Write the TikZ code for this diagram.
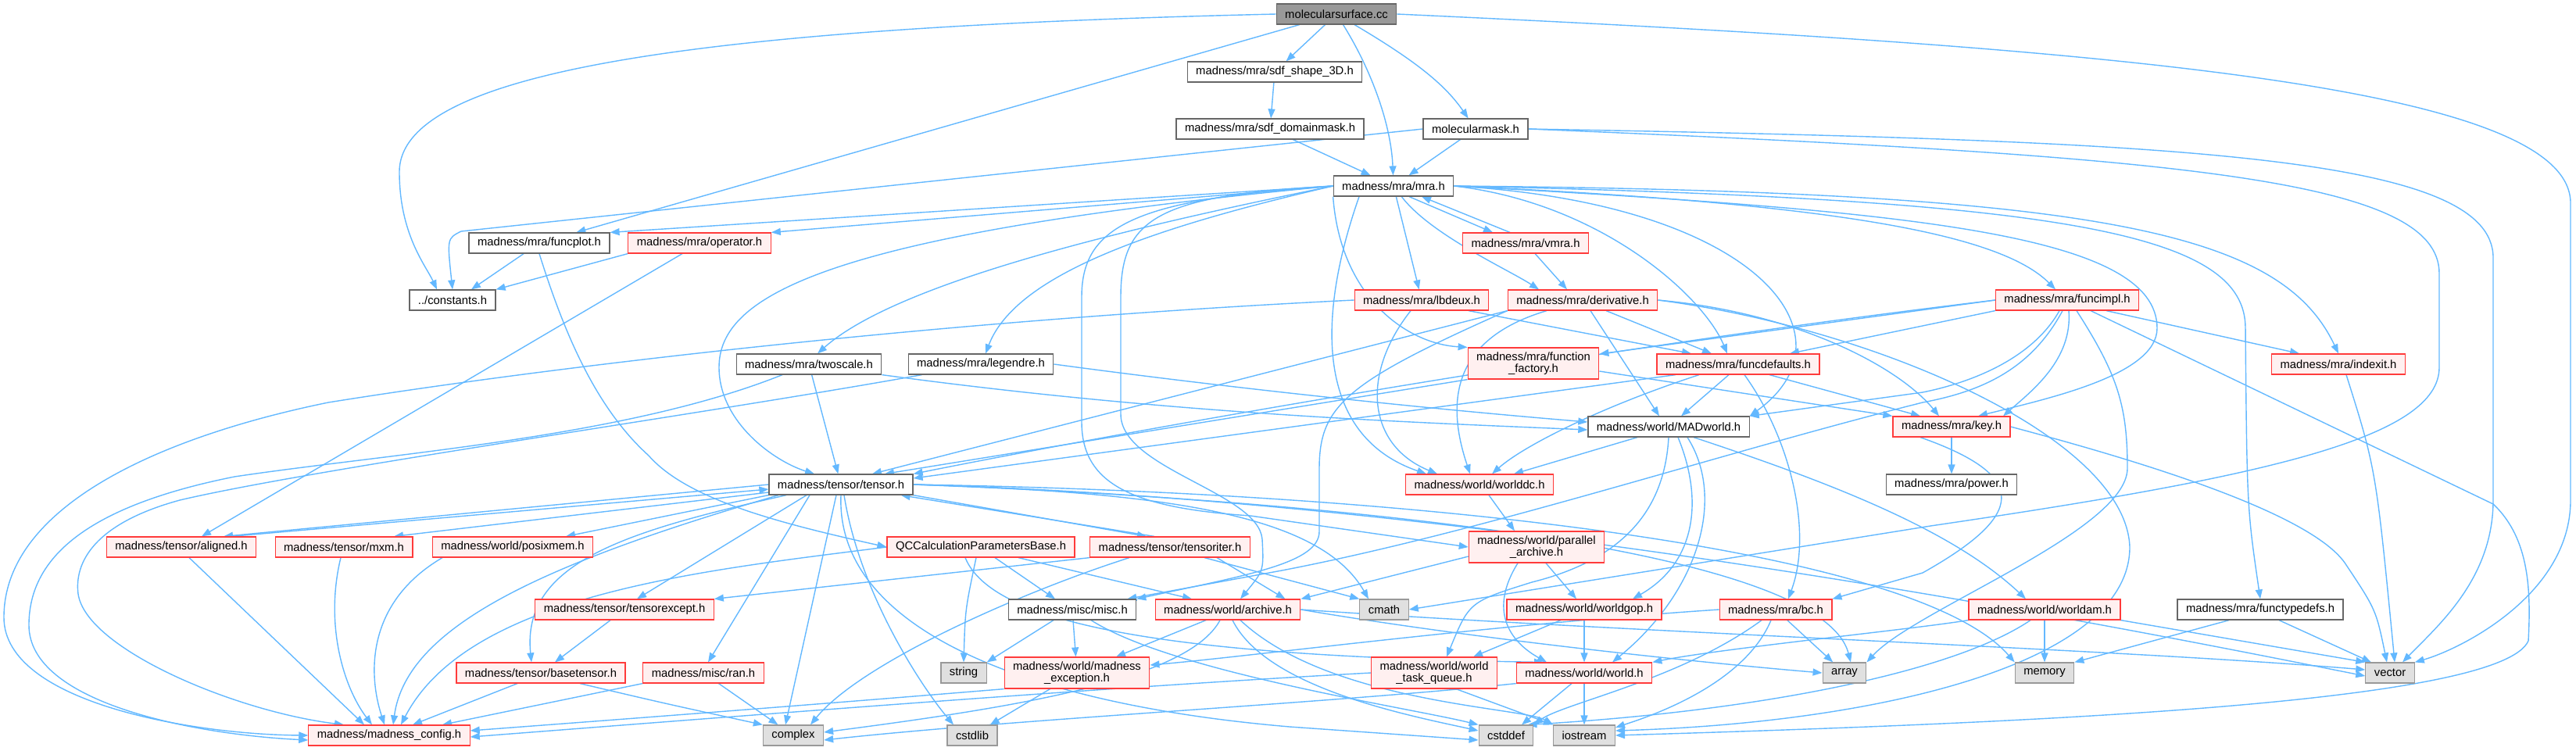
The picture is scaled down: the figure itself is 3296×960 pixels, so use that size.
\documentclass[tikz,border=0pt]{standalone}
\usepackage{fontspec}
\usetikzlibrary{arrows.meta}
\newfontfamily\dxsans{Liberation Sans}
\newcommand{\hdrfont}{\dxsans\fontsize{7.4}{7.6}\selectfont}
\definecolor{edgeblue}{HTML}{63B8FF}
\definecolor{hdrline}{HTML}{666666}
\definecolor{hdrred}{HTML}{FF3B3B}
\definecolor{hdrpink}{HTML}{FFF0F0}
\definecolor{sysline}{HTML}{999999}
\definecolor{sysfill}{HTML}{E0E0E0}
\definecolor{rootline}{HTML}{666666}
\definecolor{rootfill}{HTML}{999999}
\pgfdeclarelayer{edges}
\pgfsetlayers{edges,main}
\tikzset{
  hdr/.style={draw=hdrline, fill=white, line width=0.6pt, minimum height=13pt,
    inner xsep=5.5pt, inner ysep=1pt, font=\hdrfont},
  redhdr/.style={hdr, draw=hdrred, fill=hdrpink},
  syshdr/.style={hdr, draw=sysline, fill=sysfill},
  roothdr/.style={hdr, draw=rootline, fill=rootfill},
  twoline/.style={align=center, minimum height=20pt},
  dep/.style={draw=edgeblue, line width=0.7pt, -{Triangle[length=6pt,width=4.5pt]}},
}

\begin{document}
\begin{tikzpicture}[x=0.5pt, y=-0.5pt]
  \useasboundingbox (0,0) rectangle (3296,960);

  \node[roothdr] (surface) at (1710,18) {molecularsurface.cc};
  \node[hdr] (sdfshape) at (1631,92) {madness/mra/sdf\_shape\_3D.h};
  \node[hdr] (sdfmask) at (1625,165) {madness/mra/sdf\_domainmask.h};
  \node[hdr] (molmask) at (1888,165) {molecularmask.h};
  \node[hdr] (mra) at (1783,238) {madness/mra/mra.h};
  \node[hdr] (funcplot) at (690,311) {madness/mra/funcplot.h};
  \node[redhdr] (operator) at (895,311) {madness/mra/operator.h};
  \node[redhdr] (vmra) at (1952,311) {madness/mra/vmra.h};
  \node[hdr] (constants) at (579,384) {../constants.h};
  \node[redhdr] (lbdeux) at (1819,384) {madness/mra/lbdeux.h};
  \node[redhdr] (deriv) at (2025,384) {madness/mra/derivative.h};
  \node[redhdr] (funcimpl) at (2645,384) {madness/mra/funcimpl.h};
  \node[hdr] (twoscale) at (1035,466) {madness/mra/twoscale.h};
  \node[hdr] (legendre) at (1255,466) {madness/mra/legendre.h};
  \node[redhdr, twoline] (factory) at (1962,465) {madness/mra/function\\\_factory.h};
  \node[redhdr] (funcdef) at (2224,466) {madness/mra/funcdefaults.h};
  \node[redhdr] (indexit) at (2992,466) {madness/mra/indexit.h};
  \node[hdr] (madworld) at (2135,546) {madness/world/MADworld.h};
  \node[redhdr] (key) at (2497,546) {madness/mra/key.h};
  \node[redhdr] (worlddc) at (1893,620) {madness/world/worlddc.h};
  \node[hdr] (power) at (2497,620) {madness/mra/power.h};
  \node[hdr] (tensor) at (1076,620) {madness/tensor/tensor.h};
  \node[redhdr] (aligned) at (232,700) {madness/tensor/aligned.h};
  \node[redhdr] (mxm) at (440,700) {madness/tensor/mxm.h};
  \node[redhdr] (posixmem) at (656,700) {madness/world/posixmem.h};
  \node[redhdr] (qcparams) at (1255,700) {QCCalculationParametersBase.h};
  \node[redhdr] (tensoriter) at (1497,700) {madness/tensor/tensoriter.h};
  \node[redhdr, twoline] (pararchive) at (1966,700) {madness/world/parallel\\\_archive.h};
  \node[redhdr] (tensorexcept) at (799,780) {madness/tensor/tensorexcept.h};
  \node[hdr] (misc) at (1372,780) {madness/misc/misc.h};
  \node[redhdr] (archive) at (1571,780) {madness/world/archive.h};
  \node[syshdr] (cmath) at (1771,780) {cmath};
  \node[redhdr] (worldgop) at (2027,780) {madness/world/worldgop.h};
  \node[redhdr] (bc) at (2272,780) {madness/mra/bc.h};
  \node[redhdr] (worldam) at (2616,780) {madness/world/worldam.h};
  \node[hdr] (functypedefs) at (2892,780) {madness/mra/functypedefs.h};
  \node[redhdr] (basetensor) at (692,861) {madness/tensor/basetensor.h};
  \node[redhdr] (ran) at (900,861) {madness/misc/ran.h};
  \node[syshdr] (string) at (1233,861) {string};
  \node[redhdr, twoline] (mexcept) at (1378,861) {madness/world/madness\\\_exception.h};
  \node[redhdr, twoline] (taskqueue) at (1835,861) {madness/world/world\\\_task\_queue.h};
  \node[redhdr] (world) at (2027,861) {madness/world/world.h};
  \node[syshdr] (array) at (2360,861) {array};
  \node[syshdr] (memory) at (2616,861) {memory};
  \node[syshdr] (vector) at (3058,861) {vector};
  \node[redhdr] (config) at (498,941) {madness/madness\_config.h};
  \node[syshdr] (complex) at (1015,941) {complex};
  \node[syshdr] (cstdlib) at (1244,941) {cstdlib};
  \node[syshdr] (cstddef) at (1927,941) {cstddef};
  \node[syshdr] (iostream) at (2027,941) {iostream};

  \begin{pgfonlayer}{edges}
  % top of the graph
  \draw[dep] (surface.west) .. controls (900,35) and (511,90) .. (511,220) .. controls (511,300) and (545,340) .. ([xshift=-10pt]constants.north);
  \draw[dep] (surface) -- (funcplot);
  \draw[dep] (surface) -- (sdfshape);
  \draw[dep] (surface) .. controls (1755,90) and (1780,160) .. (mra);
  \draw[dep] (surface) .. controls (1815,80) and (1850,110) .. (molmask);
  \draw[dep] (surface.east) .. controls (2700,60) and (3289,110) .. (3289,260) -- (3289,640) .. controls (3289,760) and (3150,830) .. (vector.north east);
  \draw[dep] (sdfshape) -- (sdfmask);
  \draw[dep] (sdfmask) -- (mra);
  \draw[dep] (molmask) -- (mra);
  \draw[dep] (molmask.west) -- (590,296) .. controls (572,305) .. (constants.north);
  \draw[dep] (molmask.east) .. controls (2800,180) and (3190,200) .. (3190,330) -- (3190,640) .. controls (3190,740) and (3120,800) .. ([xshift=8pt]vector.north);
  \draw[dep] (molmask.east) .. controls (2800,200) and (3121,230) .. (3121,350) -- (3121,470) .. controls (3121,560) and (2900,610) .. (2470,673) -- (cmath.east);

  % mra.h
  \draw[dep] (mra.west) -- (funcplot.north east);
  \draw[dep] (mra.west) -- (operator.north east);
  \draw[dep] ([xshift=10pt]mra.south) -- ([xshift=-21pt]vmra.north);
  \draw[dep] ([xshift=-10pt]vmra.north) -- ([xshift=18pt]mra.south);
  \draw[dep] (mra) -- (lbdeux);
  \draw[dep] (mra) .. controls (1830,300) and (1930,345) .. ([xshift=-28pt]deriv.north);
  \draw[dep] (mra.east) .. controls (2050,260) and (2180,380) .. ([xshift=-7pt]funcdef.north);
  \draw[dep] (mra.east) .. controls (2250,260) and (2380,430) .. (madworld.north east);
  \draw[dep] (mra.south west) .. controls (1715,380) and (1800,440) .. (factory.north west);
  \draw[dep] ([xshift=-22pt]mra.south) .. controls (1680,420) and (1690,560) .. ([xshift=-34pt]worlddc.north);
  \draw[dep] (mra.west) .. controls (1450,290) and (1150,360) .. ([xshift=5.5pt]twoscale.north);
  \draw[dep] (mra.west) .. controls (1480,290) and (1300,350) .. ([xshift=3pt]legendre.north);
  \draw[dep] (mra.west) .. controls (1050,300) and (920,380) .. (920,470) .. controls (920,540) and (990,590) .. ([xshift=-17pt]tensor.north);
  \draw[dep] (mra.east) .. controls (2350,260) and (2560,300) .. ([xshift=-7.5pt]funcimpl.north);
  \draw[dep] (mra.east) .. controls (2450,270) and (2760,300) .. (2760,420) .. controls (2760,480) and (2620,510) .. ([xshift=17pt]key.north);
  \draw[dep] (mra.east) .. controls (2650,255) and (2873,300) .. (2873,420) .. controls (2875,650) .. (functypedefs.north);
  \draw[dep] (mra.east) .. controls (2700,245) and (2920,300) .. (indexit.north);
  \draw[dep] (mra.west) .. controls (1450,255) and (1384,290) .. (1384,380) -- (1384,540) .. controls (1384,620) and (1450,650) .. (1600,660) -- (pararchive.west);
  \draw[dep] (mra.west) .. controls (1480,250) and (1434,280) .. (1434,380) -- (1434,530) .. controls (1434,600) and (1610,630) .. (1615,690) .. controls (1617,730) .. ([xshift=8pt]archive.north);
  \draw[dep] (vmra) -- ([xshift=-10pt]deriv.north);

  % second level
  \draw[dep] (funcplot) -- ([xshift=12pt]constants.north);
  \draw[dep] (operator.south west) -- (constants.north east);
  \draw[dep] (funcplot.south) .. controls (720,420) and (760,520) .. (830,583) .. controls (880,640) and (1000,670) .. (qcparams.west);
  \draw[dep] ([xshift=-11pt]operator.south) -- ([xshift=13pt]aligned.north);
  \draw[dep] (lbdeux.west) .. controls (1200,410) and (700,470) .. (420,515) .. controls (200,560) and (5,650) .. (5,790) .. controls (5,900) and (250,940) .. (config.west);
  \draw[dep] ([xshift=-7pt]lbdeux.south) .. controls (1740,480) and (1750,570) .. ([xshift=-27pt]worlddc.north);
  \draw[dep] ([xshift=30pt]lbdeux.south) -- ([xshift=-30pt]funcdef.north);
  \draw[dep] (deriv.south west) -- ([xshift=20pt]tensor.north);
  \draw[dep] ([xshift=15pt]deriv.south) -- ([xshift=-17pt]funcdef.north);
  \draw[dep] ([xshift=5pt]deriv.south) -- ([xshift=-6pt]madworld.north);
  \draw[dep] ([xshift=-23pt]deriv.south) .. controls (1870,430) and (1845,500) .. ([xshift=-6pt]worlddc.north);
  \draw[dep] (deriv.east) .. controls (2300,400) and (2430,470) .. ([xshift=-8pt]key.north);
  \draw[dep] (deriv.south west) .. controls (1720,490) and (1688,520) .. (1688,600) -- (1688,680) .. controls (1688,720) and (1600,735) .. (misc.north east);
  \draw[dep] (deriv.east) .. controls (2400,420) and (2720,560) .. (2725,700) .. controls (2725,850) and (2400,925) .. ([yshift=3pt]iostream.east);
  \draw[dep] (funcimpl.west) -- ([yshift=6pt]factory.east);
  \draw[dep] (funcimpl.west) .. controls (2000,450) and (1400,560) .. (tensor.north east);
  \draw[dep] (funcimpl.south west) -- ([xshift=33pt]funcdef.north);
  \draw[dep] ([xshift=-5pt]funcimpl.south) .. controls (2600,460) and (2520,490) .. (2460,502) -- (madworld.north east);
  \draw[dep] ([xshift=1pt]funcimpl.south) .. controls (2652,460) and (2600,500) .. ([xshift=33pt]key.north);
  \draw[dep] ([xshift=-3pt]funcimpl.south) .. controls (2600,470) and (2540,500) .. (2460,515) .. controls (2200,580) and (1900,680) .. (1640,730) -- ([xshift=-6pt]misc.north east);
  \draw[dep] ([xshift=25pt]funcimpl.south) -- ([xshift=-25pt]indexit.north);
  \draw[dep] ([xshift=15pt]funcimpl.south) -- (3190,645) .. controls (3238,690) and (3238,760) .. (3235,820) .. controls (3200,900) and (2600,925) .. (iostream.east);
  \draw[dep] ([xshift=6pt]funcimpl.south) .. controls (2710,480) and (2722,520) .. (2722,600) .. controls (2720,680) and (2450,780) .. (array.north east);

  % third level
  \draw[dep] (twoscale) .. controls (800,560) and (500,580) .. (300,610) .. controls (100,650) and (37,720) .. (37,800) .. controls (37,900) and (250,940) .. ([yshift=-3pt]config.west);
  \draw[dep] (twoscale) -- (tensor);
  \draw[dep] (twoscale.south east) .. controls (1500,530) and (1800,540) .. ([yshift=-2pt]madworld.west);
  \draw[dep] (legendre) .. controls (900,530) and (400,600) .. (230,640) .. controls (120,670) and (95,720) .. (100,760) .. controls (110,830) and (300,910) .. ([xshift=-29pt]config.north);
  \draw[dep] (legendre.east) .. controls (1600,500) and (1850,525) .. ([yshift=3pt]madworld.west);
  \draw[dep] (factory.south west) -- ([xshift=28pt]tensor.north);
  \draw[dep] ([yshift=-5pt]factory.east) -- (key.north west);
  \draw[dep] ([xshift=-40pt]funcdef.south) -- ([yshift=4pt]tensor.east);
  \draw[dep] ([xshift=-6pt]funcdef.south) -- ([xshift=8pt]madworld.north);
  \draw[dep] ([xshift=-25pt]funcdef.south) .. controls (2050,520) and (1950,570) .. ([xshift=8pt]worlddc.north);
  \draw[dep] ([xshift=20pt]funcdef.south) -- ([xshift=-20pt]key.north);
  \draw[dep] ([xshift=4pt]funcdef.south) .. controls (2290,560) and (2320,680) .. ([xshift=8pt]bc.north);
  \draw[dep] ([xshift=5pt]indexit.south) .. controls (3040,600) .. ([xshift=3pt]vector.north);

  % world layer
  \draw[dep] (key) -- (power);
  \draw[dep] (key.east) .. controls (2700,580) and (2950,650) .. (3000,720) .. controls (3040,780) .. ([xshift=-2pt]vector.north);
  \draw[dep] ([xshift=-20pt]key.south) .. controls (2600,610) and (2590,660) .. (2460,733) -- (bc.north east);
  \draw[dep] ([xshift=-20pt]madworld.south) -- ([xshift=22pt]worlddc.north);
  \draw[dep] (madworld.south) .. controls (2130,650) and (2080,715) .. (1960,745) .. controls (1880,770) .. ([xshift=8pt]taskqueue.north);
  \draw[dep] ([xshift=6pt]madworld.south) .. controls (2180,640) and (2170,720) .. ([xshift=31pt]worldgop.north);
  \draw[dep] ([xshift=12pt]madworld.south) .. controls (2210,640) and (2170,760) .. ([xshift=18pt]world.north);
  \draw[dep] ([xshift=16pt]madworld.south) .. controls (2350,620) and (2500,680) .. ([xshift=-12pt]worldam.north);
  \draw[dep] ([xshift=6pt]worlddc.south) -- ([xshift=-14pt]pararchive.north);
  \draw[dep] ([yshift=-6pt]pararchive.west) -- (archive.north east);
  \draw[dep] ([xshift=6pt]pararchive.south) -- ([xshift=-5pt]worldgop.north);
  \draw[dep] ([xshift=-12pt]pararchive.south) .. controls (1905,780) and (1930,820) .. ([xshift=-24pt]world.north);
  \draw[dep] ([xshift=-15pt]worldgop.south) -- ([xshift=25pt]taskqueue.north);
  \draw[dep] (worldgop) -- (world);
  \draw[dep] (bc) -- (array);
  \draw[dep] ([xshift=-9pt]bc.south) .. controls (2150,870) and (2000,900) .. (cstddef.north east);
  \draw[dep] ([xshift=-3pt]bc.south) .. controls (2230,880) and (2100,920) .. ([yshift=5pt]iostream.east);
  \draw[dep] (bc.west) .. controls (1900,800) and (1600,840) .. ([yshift=5pt]mexcept.east);
  \draw[dep] (worldam) -- (memory);
  \draw[dep] (worldam.south east) -- (vector.north west);
  \draw[dep] (worldam.south west) .. controls (2450,805) and (2200,830) .. (world.north east);
  \draw[dep] ([xshift=-9pt]worldam.south) .. controls (2500,860) and (2250,910) .. ([xshift=-4pt]cstddef.north east);
  \draw[dep] ([xshift=-20pt]functypedefs.south) -- (memory.north east);
  \draw[dep] ([xshift=12pt]functypedefs.south) -- ([xshift=-12pt]vector.north);

  % tensor.h
  \draw[dep] (tensor.west) -- ([xshift=27pt]aligned.north);
  \draw[dep] ([xshift=32pt]aligned.north) -- ([yshift=-3pt]tensor.west);
  \draw[dep] ([yshift=-5pt]tensor.west) -- ([xshift=32pt]mxm.north);
  \draw[dep] (tensor.south west) -- ([xshift=34pt]posixmem.north);
  \draw[dep] ([xshift=-22pt]tensor.south) -- ([xshift=8pt]tensorexcept.north);
  \draw[dep] ([xshift=-35pt]tensor.south) .. controls (800,680) and (667,720) .. ([xshift=-6pt]basetensor.north);
  \draw[dep] ([xshift=-20pt]tensor.south) -- ([xshift=3pt]ran.north);
  \draw[dep] ([xshift=-3pt]tensor.south) -- ([xshift=-5pt]complex.north);
  \draw[dep] ([xshift=2pt]tensor.south) .. controls (1100,760) and (1180,880) .. ([xshift=-12pt]cstdlib.north);
  \draw[dep] ([xshift=-40pt]tensor.south) .. controls (700,720) and (520,800) .. ([xshift=2.5pt]config.north);
  \draw[dep] (tensor.south east) -- ([xshift=-15pt]tensoriter.north);
  \draw[dep] ([xshift=-10pt]tensoriter.north) -- ([xshift=-8pt]tensor.south east);
  \draw[dep] (tensor.east) .. controls (1500,630) and (1690,660) .. ([xshift=-10pt]cmath.north);
  \draw[dep] (tensor.east) .. controls (1700,640) and (2330,700) .. ([xshift=4pt]array.north);
  \draw[dep] (tensor.east) .. controls (1800,630) and (2450,700) .. (memory.north west);
  \draw[dep] (tensor.east) .. controls (1900,640) and (2700,800) .. ([yshift=-2pt]vector.west);
  \draw[dep] (tensor.south) .. controls (1069,800) and (1300,900) .. (1650,930) -- ([yshift=-3pt]cstddef.west);

  % lower headers
  \draw[dep] ([xshift=9pt]qcparams.south) -- ([xshift=-11pt]misc.north);
  \draw[dep] ([xshift=24pt]qcparams.south) -- ([xshift=-23pt]archive.north);
  \draw[dep] ([xshift=-3pt]qcparams.south) .. controls (1235,780) .. (string.north);
  \draw[dep] (qcparams.west) .. controls (900,730) and (600,760) .. ([xshift=7.5pt]config.north);
  \draw[dep] ([xshift=-10pt]qcparams.south) .. controls (1270,800) and (1500,840) .. ([xshift=-26pt]world.north);
  \draw[dep] (tensoriter.south west) -- (tensorexcept.north east);
  \draw[dep] ([xshift=-26pt]tensoriter.south) .. controls (1300,760) and (1100,850) .. ([xshift=11pt]complex.north);
  \draw[dep] ([xshift=22pt]tensoriter.south) -- (cmath.north west);
  \draw[dep] ([xshift=30pt]tensoriter.south) -- ([xshift=-10pt]archive.north east);
  \draw[dep] ([xshift=-12pt]misc.south) -- (string.north east);
  \draw[dep] (misc) -- (mexcept);
  \draw[dep] ([xshift=12pt]misc.south) .. controls (1500,860) and (1800,905) .. (cstddef.north west);
  \draw[dep] ([xshift=-14pt]archive.south) -- ([xshift=25pt]mexcept.north);
  \draw[dep] ([xshift=-5pt]archive.south) .. controls (1520,870) and (1300,905) .. ([yshift=2pt]complex.east);
  \draw[dep] ([xshift=3pt]archive.south) .. controls (1620,880) and (1800,915) .. ([yshift=3pt]cstddef.west);
  \draw[dep] ([xshift=8pt]archive.south) .. controls (1700,900) and (1950,905) .. (iostream.north west);
  \draw[dep] (archive.east) .. controls (1900,820) and (2200,850) .. (array.west);
  \draw[dep] (archive.east) .. controls (2100,810) and (2700,830) .. ([yshift=2pt]vector.west);
  \draw[dep] (tensorexcept) -- (basetensor);
  \draw[dep] ([xshift=-15pt]basetensor.south) -- ([xshift=15pt]config.north);
  \draw[dep] ([xshift=25pt]basetensor.south) .. controls (850,900) .. (complex.north west);
  \draw[dep] (ran) -- (complex);
  \draw[dep] (ran.south west) -- ([xshift=34pt]config.north);
  \draw[dep] (mexcept) -- (cstdlib);
  \draw[dep] (mexcept.south west) .. controls (1000,905) and (800,920) .. ([yshift=3pt]config.east);
  \draw[dep] (taskqueue.west) .. controls (1400,880) and (900,920) .. ([yshift=-1pt]config.east);
  \draw[dep] ([xshift=14pt]taskqueue.south) -- (iostream.north west);
  \draw[dep] ([xshift=-8pt]world.south) -- ([xshift=10pt]cstddef.north);
  \draw[dep] (world) -- (iostream);
  \draw[dep] (world.south west) .. controls (1700,900) and (1300,920) .. ([yshift=-3pt]complex.east);
  \draw[dep] ([xshift=5pt]aligned.south) -- ([xshift=-16pt]config.north);
  \draw[dep] ([xshift=-2pt]mxm.south) .. controls (415,800) and (440,880) .. ([xshift=-11pt]config.north);
  \draw[dep] ([xshift=-45pt]posixmem.south) .. controls (470,770) and (470,860) .. ([xshift=-3pt]config.north);
  \end{pgfonlayer}
\end{tikzpicture}
\end{document}
